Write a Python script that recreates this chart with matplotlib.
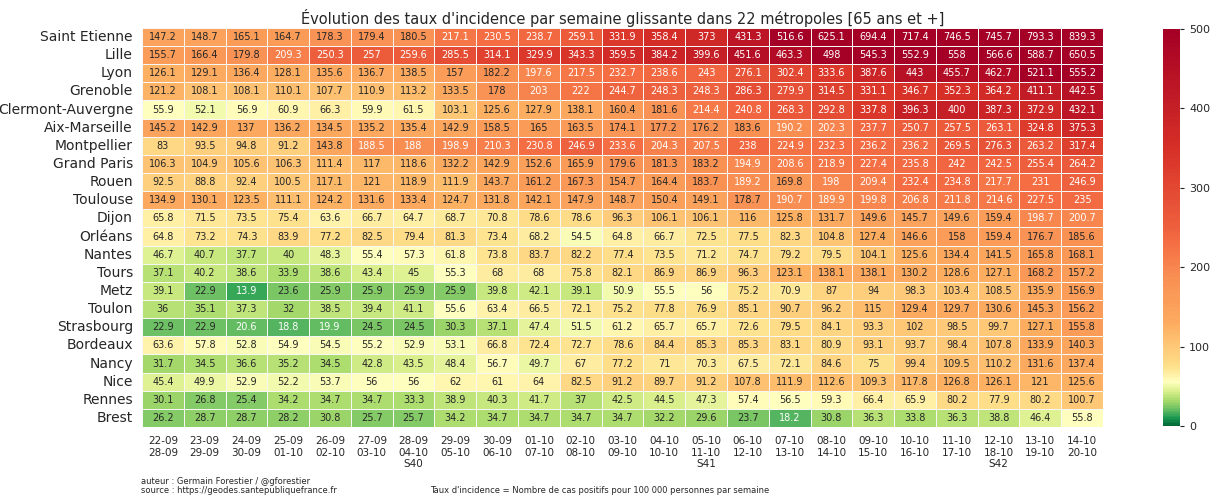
import numpy as np
import pandas as pd
import matplotlib
matplotlib.use("Agg")
import matplotlib.pyplot as plt
from matplotlib.colors import LinearSegmentedColormap
import seaborn as sns

villes = ["Saint Etienne", "Lille", "Lyon", "Grenoble", "Clermont-Auvergne",
          "Aix-Marseille", "Montpellier", "Grand Paris", "Rouen", "Toulouse",
          "Dijon", "Orléans", "Nantes", "Tours", "Metz", "Toulon", "Strasbourg",
          "Bordeaux", "Nancy", "Nice", "Rennes", "Brest"]

debuts = ["22-09", "23-09", "24-09", "25-09", "26-09", "27-09", "28-09", "29-09",
          "30-09", "01-10", "02-10", "03-10", "04-10", "05-10", "06-10", "07-10",
          "08-10", "09-10", "10-10", "11-10", "12-10", "13-10", "14-10"]
fins = ["28-09", "29-09", "30-09", "01-10", "02-10", "03-10", "04-10", "05-10",
        "06-10", "07-10", "08-10", "09-10", "10-10", "11-10", "12-10", "13-10",
        "14-10", "15-10", "16-10", "17-10", "18-10", "19-10", "20-10"]
# semaine ISO marquee sous la periode qui commence le lundi
semaines = {"28-09": "S40", "05-10": "S41", "12-10": "S42"}

taux = [
    [147.2, 148.7, 165.1, 164.7, 178.3, 179.4, 180.5, 217.1, 230.5, 238.7, 259.1, 331.9, 358.4, 373, 431.3, 516.6, 625.1, 694.4, 717.4, 746.5, 745.7, 793.3, 839.3],
    [155.7, 166.4, 179.8, 209.3, 250.3, 257, 259.6, 285.5, 314.1, 329.9, 343.3, 359.5, 384.2, 399.6, 451.6, 463.3, 498, 545.3, 552.9, 558, 566.6, 588.7, 650.5],
    [126.1, 129.1, 136.4, 128.1, 135.6, 136.7, 138.5, 157, 182.2, 197.6, 217.5, 232.7, 238.6, 243, 276.1, 302.4, 333.6, 387.6, 443, 455.7, 462.7, 521.1, 555.2],
    [121.2, 108.1, 108.1, 110.1, 107.7, 110.9, 113.2, 133.5, 178, 203, 222, 244.7, 248.3, 248.3, 286.3, 279.9, 314.5, 331.1, 346.7, 352.3, 364.2, 411.1, 442.5],
    [55.9, 52.1, 56.9, 60.9, 66.3, 59.9, 61.5, 103.1, 125.6, 127.9, 138.1, 160.4, 181.6, 214.4, 240.8, 268.3, 292.8, 337.8, 396.3, 400, 387.3, 372.9, 432.1],
    [145.2, 142.9, 137, 136.2, 134.5, 135.2, 135.4, 142.9, 158.5, 165, 163.5, 174.1, 177.2, 176.2, 183.6, 190.2, 202.3, 237.7, 250.7, 257.5, 263.1, 324.8, 375.3],
    [83, 93.5, 94.8, 91.2, 143.8, 188.5, 188, 198.9, 210.3, 230.8, 246.9, 233.6, 204.3, 207.5, 238, 224.9, 232.3, 236.2, 236.2, 269.5, 276.3, 263.2, 317.4],
    [106.3, 104.9, 105.6, 106.3, 111.4, 117, 118.6, 132.2, 142.9, 152.6, 165.9, 179.6, 181.3, 183.2, 194.9, 208.6, 218.9, 227.4, 235.8, 242, 242.5, 255.4, 264.2],
    [92.5, 88.8, 92.4, 100.5, 117.1, 121, 118.9, 111.9, 143.7, 161.2, 167.3, 154.7, 164.4, 183.7, 189.2, 169.8, 198, 209.4, 232.4, 234.8, 217.7, 231, 246.9],
    [134.9, 130.1, 123.5, 111.1, 124.2, 131.6, 133.4, 124.7, 131.8, 142.1, 147.9, 148.7, 150.4, 149.1, 178.7, 190.7, 189.9, 199.8, 206.8, 211.8, 214.6, 227.5, 235],
    [65.8, 71.5, 73.5, 75.4, 63.6, 66.7, 64.7, 68.7, 70.8, 78.6, 78.6, 96.3, 106.1, 106.1, 116, 125.8, 131.7, 149.6, 145.7, 149.6, 159.4, 198.7, 200.7],
    [64.8, 73.2, 74.3, 83.9, 77.2, 82.5, 79.4, 81.3, 73.4, 68.2, 54.5, 64.8, 66.7, 72.5, 77.5, 82.3, 104.8, 127.4, 146.6, 158, 159.4, 176.7, 185.6],
    [46.7, 40.7, 37.7, 40, 48.3, 55.4, 57.3, 61.8, 73.8, 83.7, 82.2, 77.4, 73.5, 71.2, 74.7, 79.2, 79.5, 104.1, 125.6, 134.4, 141.5, 165.8, 168.1],
    [37.1, 40.2, 38.6, 33.9, 38.6, 43.4, 45, 55.3, 68, 68, 75.8, 82.1, 86.9, 86.9, 96.3, 123.1, 138.1, 138.1, 130.2, 128.6, 127.1, 168.2, 157.2],
    [39.1, 22.9, 13.9, 23.6, 25.9, 25.9, 25.9, 25.9, 39.8, 42.1, 39.1, 50.9, 55.5, 56, 75.2, 70.9, 87, 94, 98.3, 103.4, 108.5, 135.9, 156.9],
    [36, 35.1, 37.3, 32, 38.5, 39.4, 41.1, 55.6, 63.4, 66.5, 72.1, 75.2, 77.8, 76.9, 85.1, 90.7, 96.2, 115, 129.4, 129.7, 130.6, 145.3, 156.2],
    [22.9, 22.9, 20.6, 18.8, 19.9, 24.5, 24.5, 30.3, 37.1, 47.4, 51.5, 61.2, 65.7, 65.7, 72.6, 79.5, 84.1, 93.3, 102, 98.5, 99.7, 127.1, 155.8],
    [63.6, 57.8, 52.8, 54.9, 54.5, 55.2, 52.9, 53.1, 66.8, 72.4, 72.7, 78.6, 84.4, 85.3, 85.3, 83.1, 80.9, 93.1, 93.7, 98.4, 107.8, 133.9, 140.3],
    [31.7, 34.5, 36.6, 35.2, 34.5, 42.8, 43.5, 48.4, 56.7, 49.7, 67, 77.2, 71, 70.3, 67.5, 72.1, 84.6, 75, 99.4, 109.5, 110.2, 131.6, 137.4],
    [45.4, 49.9, 52.9, 52.2, 53.7, 56, 56, 62, 61, 64, 82.5, 91.2, 89.7, 91.2, 107.8, 111.9, 112.6, 109.3, 117.8, 126.8, 126.1, 121, 125.6],
    [30.1, 26.8, 25.4, 34.2, 34.7, 34.7, 33.3, 38.9, 40.3, 41.7, 37, 42.5, 44.5, 47.3, 57.4, 56.5, 59.3, 66.4, 65.9, 80.2, 77.9, 80.2, 100.7],
    [26.2, 28.7, 28.7, 28.2, 30.8, 25.7, 25.7, 34.2, 34.7, 34.7, 34.7, 34.7, 32.2, 29.6, 23.7, 18.2, 30.8, 36.3, 33.8, 36.3, 38.8, 46.4, 55.8],
]

etiquettes = []
for d, f in zip(debuts, fins):
    lab = d + "\n" + f
    if d in semaines:
        lab += "\n" + semaines[d]
    etiquettes.append(lab)

df = pd.DataFrame(taux, index=villes, columns=etiquettes)

# RdYlGn_r squeezed so that yellow sits around 55 and orange/red spread over 100-500
base = plt.get_cmap("RdYlGn_r")
v_ancre = [0, 20, 35, 55, 75, 130, 187, 250, 350, 500]
g_ancre = [0.0, 0.2, 0.33, 0.5, 0.6, 0.705, 0.746, 0.82, 0.9, 1.0]
grille = np.linspace(0, 500, 256)
cmap = LinearSegmentedColormap.from_list(
    "incidence", list(zip(grille / 500, base(np.interp(grille, v_ancre, g_ancre)))))

sns.set_style("white")
fig = plt.figure(figsize=(12.18, 4.97), dpi=100)
ax = fig.add_axes([0.1166, 0.1408, 0.789, 0.803])
cax = fig.add_axes([0.955, 0.142, 0.014, 0.8])

sns.heatmap(df, ax=ax, cbar_ax=cax, cmap=cmap, vmin=0, vmax=500,
            annot=True, fmt="g", annot_kws={"size": 7},
            linewidths=0.6, linecolor="#f7f7f7")

ax.set_title("Évolution des taux d'incidence par semaine glissante dans 22 métropoles [65 ans et +]",
             fontsize=10.5, pad=3)
ax.tick_params(axis="y", labelsize=10, length=3, rotation=0)
ax.tick_params(axis="x", labelsize=7.5, length=3, rotation=0)
ax.set_xlabel("")
ax.set_ylabel("")
cax.tick_params(labelsize=8, length=3)
cax.set_yticks([0, 100, 200, 300, 400, 500])

fig.text(0.116, 0.032, "auteur : Germain Forestier / @gforestier", fontsize=6, va="center")
fig.text(0.116, 0.014, "source : https://geodes.santepubliquefrance.fr", fontsize=6, va="center")
fig.text(0.353, 0.014, "Taux d'incidence = Nombre de cas positifs pour 100 000 personnes par semaine",
         fontsize=6, va="center")

fig.savefig("out.png", dpi=100)
